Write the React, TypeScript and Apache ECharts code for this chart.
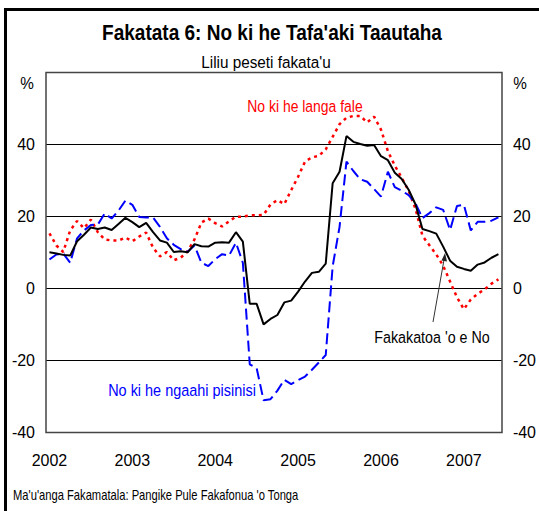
import React, { useEffect, useRef } from 'react';
import * as echarts from 'echarts';

// ---- Data ----
const years = ['2002', '2003', '2004', '2005', '2006', '2007'];
const monthsPerYear = [12, 12, 12, 12, 12, 6];
const categories: string[] = [];
years.forEach((y, yi) => {
  for (let m = 1; m <= monthsPerYear[yi]; m++) categories.push(`${y}-${m < 10 ? '0' + m : m}`);
});

// Fakakatoa 'o e No (total lending), % y/y
const totalLending = [
  9.9, 9.6, 9.2, 9.0, 13.0, 14.8, 16.8, 16.4, 16.8, 16.1, 17.8, 19.5,
  18.3, 16.9, 18.1, 15.5, 13.2, 12.6, 10.0, 10.2, 9.9, 12.2, 11.6, 11.5,
  12.6, 12.7, 12.6, 15.5, 12.9, -4.4, -4.4, -10.1, -8.6, -7.5, -4.0, -3.5,
  -1.0, 1.8, 4.2, 4.5, 6.8, 29.1, 32.3, 42.2, 40.6, 40.0, 39.5, 39.7,
  36.6, 35.5, 32.0, 30.3, 27.3, 23.2, 16.4, 15.8, 15.1, 11.5, 7.6, 5.9,
  5.3, 4.8, 6.5, 7.1, 8.4, 9.4,
];

// No ki he ngaahi pisinisi (business lending)
const businessLending = [
  7.9, 9.3, 9.6, 7.0, 13.8, 16.0, 17.5, 17.6, 20.7, 19.3, 21.5, 24.3,
  23.1, 19.7, 19.6, 19.6, 17.0, 13.8, 12.0, 10.8, 10.1, 11.8, 7.0, 6.1,
  8.0, 9.4, 9.0, 12.6, 7.0, -21.2, -22.3, -31.2, -30.9, -28.5, -25.5, -26.7,
  -25.6, -24.6, -22.7, -20.7, -18.6, 6.0, 17.0, 35.1, 32.5, 30.2, 29.5, 27.5,
  25.4, 32.3, 28.0, 27.0, 25.8, 23.5, 19.4, 20.8, 22.4, 21.7, 16.1, 22.8,
  23.1, 16.0, 18.4, 18.4, 18.7, 19.6,
];

// No ki he langa fale (housing lending)
const housingLending = [
  15.2, 11.8, 10.0, 16.0, 18.6, 16.6, 19.0, 15.5, 13.5, 13.2, 13.2, 14.0,
  13.0, 14.3, 15.4, 11.2, 8.8, 10.0, 7.7, 8.4, 10.2, 13.5, 18.2, 19.3,
  18.0, 17.1, 18.5, 19.8, 19.8, 20.2, 20.2, 20.3, 23.2, 24.4, 23.3, 27.2,
  30.9, 35.1, 36.3, 36.7, 38.5, 42.0, 45.5, 47.3, 47.8, 47.8, 46.0, 47.6,
  44.0, 38.0, 34.0, 30.6, 27.0, 22.0, 14.5, 11.9, 9.3, 6.2, 1.8, -2.6,
  -5.9, -3.2, -1.6, -0.4, 1.2, 2.4,
];

const yMin = -40;
const yMax = 60;
const yStep = 20;

const FONT = "'Liberation Sans', Arial, sans-serif";

function label(text: string, x: number, y: number, size: number, color: string, sx: number, extra: any = {}) {
  return {
    type: 'text',
    x,
    y,
    scaleX: sx,
    silent: true,
    style: {
      text,
      fontFamily: FONT,
      fontSize: size,
      fill: color,
      align: extra.align || 'center',
      verticalAlign: 'middle',
      fontWeight: extra.fontWeight || 'normal',
    },
    z: 120,
  };
}

export default function App() {
  const ref = useRef<HTMLDivElement>(null);

  useEffect(() => {
    if (!ref.current) return;
    const chart = echarts.init(ref.current, undefined, { renderer: 'svg' });

    const yAxisCommon = {
      type: 'value' as const,
      min: yMin,
      max: yMax,
      interval: yStep,
      axisLine: { show: false },
      axisTick: { show: false },
      axisLabel: {
        color: '#000',
        fontFamily: FONT,
        fontSize: 16,
        margin: 11,
        formatter: (v: number) => (v === yMax ? '' : String(v)),
      },
    };

    chart.setOption({
      animation: false,
      backgroundColor: '#fff',
      grid: { left: 46, top: 72, right: 37, bottom: 79, containLabel: false },
      xAxis: {
        type: 'category',
        data: categories,
        boundaryGap: true,
        axisLine: { show: false },
        axisTick: { show: false },
        axisLabel: {
          color: '#000',
          fontFamily: FONT,
          fontSize: 16,
          margin: 20,
          interval: (i: number) => i % 12 === 0,
          formatter: (v: string) => v.slice(0, 4),
        },
        splitLine: { show: false },
      },
      yAxis: [
        {
          ...yAxisCommon,
          position: 'left',
          splitLine: { show: true, lineStyle: { color: '#000', width: 1 } },
        },
        {
          ...yAxisCommon,
          position: 'right',
          splitLine: { show: false },
        },
      ],
      series: [
        {
          name: 'No ki he langa fale',
          type: 'line',
          data: housingLending,
          showSymbol: false,
          symbol: 'none',
          lineStyle: { color: '#ff0000', width: 2.5, type: [3, 4] },
          z: 2,
        },
        {
          name: 'No ki he ngaahi pisinisi',
          type: 'line',
          data: businessLending,
          showSymbol: false,
          symbol: 'none',
          lineStyle: { color: '#0000ff', width: 2, type: [11, 5] },
          z: 3,
        },
        {
          name: "Fakakatoa 'o e No",
          type: 'line',
          data: totalLending,
          showSymbol: false,
          symbol: 'none',
          lineStyle: { color: '#000', width: 2 },
          z: 4,
        },
      ],
      graphic: [
        {
          type: 'rect',
          shape: { x: 5.5, y: 9.5, width: 700, height: 700 },
          style: { fill: 'none', stroke: '#000', lineWidth: 3 },
          silent: true,
        },
        {
          type: 'rect',
          shape: { x: 46, y: 72.5, width: 456, height: 360 },
          style: { fill: 'none', stroke: '#444', lineWidth: 1.5 },
          z: 100,
          silent: true,
        },
        label("Fakatata 6: No ki he Tafa'aki Taautaha", 272, 32, 22, '#000', 0.865, { fontWeight: 'bold' }),
        label("Liliu peseti fakata'u", 266, 62, 17, '#000', 0.9),
        label('%', 27, 83, 17, '#000', 0.9),
        label('%', 520, 83, 17, '#000', 0.9),
        label('No ki he langa fale', 305, 106, 17, '#ff0000', 0.82),
        label('No ki he ngaahi pisinisi', 182, 390, 17, '#0000ff', 0.85),
        label("Fakakatoa 'o e No", 432, 337, 17, '#000', 0.84),
        {
          type: 'line',
          shape: { x1: 433, y1: 322, x2: 444.5, y2: 257 },
          style: { stroke: '#333', lineWidth: 1 },
          z: 110,
          silent: true,
        },
        {
          type: 'polygon',
          shape: { points: [[445, 253], [447, 261.5], [441.5, 260.5]] },
          style: { fill: '#222' },
          z: 110,
          silent: true,
        },
        label("Ma'u'anga Fakamatala: Pangike Pule Fakafonua 'o Tonga", 13, 496, 14, '#000', 0.8, { align: 'left' }),
      ],
    });

    return () => chart.dispose();
  }, []);

  return (
    <div
      ref={ref}
      style={{ position: 'fixed', left: 0, top: 0, width: 539, height: 511, background: '#fff' }}
    />
  );
}
